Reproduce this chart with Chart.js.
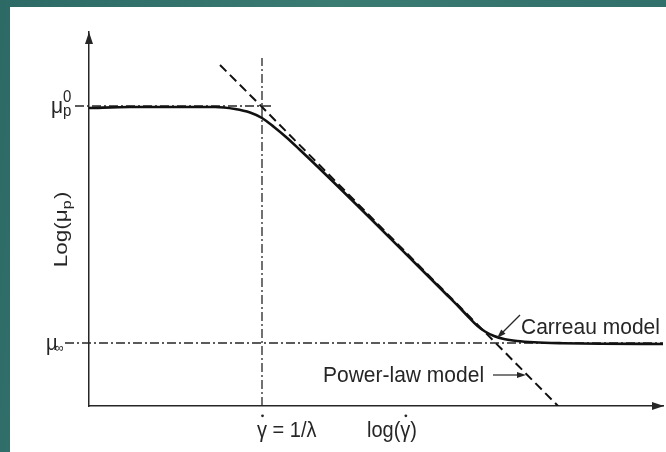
<!DOCTYPE html>
<html>
<head>
<meta charset="utf-8">
<script src="https://cdn.jsdelivr.net/npm/chart.js@4.4.0/dist/chart.umd.min.js"></script>
<style>
    body {
        margin: 0;
        width: 666px;
        height: 452px;
        overflow: hidden;
        background: linear-gradient(100deg, #2d6a66 0%, #3a7b72 45%, #2f6d69 100%);
    }
    #wrap {
        position: absolute;
        left: 10px;
        top: 7px;
        width: 656px;
        height: 445px;
        background: #fff;
    }
</style>
</head>
<body>
<div id="wrap"><canvas id="viscChart" width="656" height="445"></canvas></div>
<script>
// Carreau model curve (log shear rate vs log viscosity)
const carreauShear = [0.00, 0.41, 0.91, 1.26, 1.46, 1.61, 1.73, 1.85, 1.97, 2.10, 2.31, 2.81, 3.31, 3.56, 3.70, 3.80, 3.88, 3.96, 4.05, 4.15, 4.28, 4.45, 4.74, 5.11, 5.74];
const carreauVisc  = [2.98, 2.99, 2.99, 2.99, 2.97, 2.935, 2.88, 2.79, 2.69, 2.57, 2.37, 1.88, 1.38, 1.13, 0.99, 0.885, 0.805, 0.745, 0.70, 0.67, 0.65, 0.637, 0.628, 0.623, 0.62];

// Power-law asymptote (straight dashed line)
const powerShear = [1.31, 1.73, 4.69];
const powerVisc  = [3.41, 2.99, 0.00];

// reference levels
const muZero = 3.0;
const muInf = 0.63;
const invLambda = 1.73;
const muZeroSpan = [-0.14, 1.84];
const muInfSpan = [-0.24, 5.74];
const lambdaSpan = [0, 3.48];

// axis ranges
const xMax = 5.74;
const yMax = 3.74;

const ink = '#262626';
const fontFamily = "'Liberation Sans', Arial, sans-serif";
const dashDot = [9, 3, 2, 3];

const toPoints = (xs, ys) => xs.map((x, i) => ({ x: x, y: ys[i] }));

const arrowHead = (ctx, x1, y1, x2, y2, len, half) => {
    const a = Math.atan2(y2 - y1, x2 - x1);
    ctx.beginPath();
    ctx.moveTo(x2, y2);
    ctx.lineTo(x2 - len * Math.cos(a) + half * Math.sin(a), y2 - len * Math.sin(a) - half * Math.cos(a));
    ctx.lineTo(x2 - len * Math.cos(a) - half * Math.sin(a), y2 - len * Math.sin(a) + half * Math.cos(a));
    ctx.closePath();
    ctx.fill();
};

// text drawn slightly taller than the font, like the scanned figure
const text = (ctx, str, x, y, size, sy = 1.08) => {
    ctx.save();
    ctx.translate(x, y);
    ctx.scale(1, sy);
    ctx.font = size + 'px ' + fontFamily;
    ctx.fillText(str, 0, 0);
    const w = ctx.measureText(str).width;
    ctx.restore();
    return w;
};

// gamma with a dot over it
const gammaDot = (ctx, x, y, size) => {
    const w = text(ctx, 'γ', x, y, size);
    ctx.beginPath();
    ctx.arc(x + w / 2 + 0.5, y - size * 1.06, 1.4, 0, Math.PI * 2);
    ctx.fill();
    return w;
};

const labelsPlugin = {
    id: 'labels',
    afterDraw(chart) {
        const ctx = chart.ctx;
        const ca = chart.chartArea;
        const xs = chart.scales.x;
        const ys = chart.scales.y;
        ctx.save();
        ctx.fillStyle = ink;
        ctx.strokeStyle = ink;
        ctx.textBaseline = 'alphabetic';
        ctx.textAlign = 'left';

        // axis arrows
        arrowHead(ctx, ca.left, ca.bottom, ca.left, ca.top, 12, 4);
        arrowHead(ctx, ca.left, ca.bottom, ca.right + 1, ca.bottom, 12, 4);

        // mu_p^0 tick label
        const y0 = ys.getPixelForValue(muZero);
        text(ctx, 'μ', 41, y0 + 7, 21);
        text(ctx, '0', 53, y0 - 4, 15);
        text(ctx, 'p', 53, y0 + 10, 15);

        // mu_inf tick label
        const yi = ys.getPixelForValue(muInf);
        text(ctx, 'μ', 36, yi + 7, 20);
        text(ctx, '∞', 45, yi + 9, 12);

        // y axis title Log(mu_p)
        ctx.save();
        ctx.translate(57, (ca.top + ca.bottom) / 2 + 11);
        ctx.rotate(-Math.PI / 2);
        ctx.scale(1.25, 1);
        ctx.font = '18px ' + fontFamily;
        const wa = ctx.measureText('Log(μ').width;
        ctx.font = '13px ' + fontFamily;
        const wp = ctx.measureText('p').width;
        ctx.font = '18px ' + fontFamily;
        const wb = ctx.measureText(')').width;
        let tx = -(wa + wp + wb) / 2;
        text(ctx, 'Log(μ', tx, 0, 18, 1);
        text(ctx, 'p', tx + wa, 4, 13, 1);
        text(ctx, ')', tx + wa + wp + 1, 0, 18, 1);
        ctx.restore();

        // x labels
        const xl = xs.getPixelForValue(invLambda);
        let cx = xl - 5;
        cx += gammaDot(ctx, cx, ca.bottom + 31, 20);
        text(ctx, ' = 1/λ', cx, ca.bottom + 31, 20);

        cx = ca.left + 278;
        cx += text(ctx, 'log(', cx, ca.bottom + 31, 20);
        cx += gammaDot(ctx, cx, ca.bottom + 31, 20);
        text(ctx, ')', cx, ca.bottom + 31, 20);

        // Carreau model label with arrow
        text(ctx, 'Carreau model', ca.left + 432, ca.bottom - 72, 21);
        ctx.lineWidth = 1.2;
        ctx.beginPath();
        ctx.moveTo(ca.left + 431, ca.bottom - 91);
        ctx.lineTo(ca.left + 412, ca.bottom - 72);
        ctx.stroke();
        arrowHead(ctx, ca.left + 431, ca.bottom - 91, ca.left + 408, ca.bottom - 68, 9, 3);

        // Power-law model label with arrow
        text(ctx, 'Power-law model', ca.left + 234, ca.bottom - 24, 21);
        ctx.beginPath();
        ctx.moveTo(ca.left + 404, ca.bottom - 31);
        ctx.lineTo(ca.left + 430, ca.bottom - 31);
        ctx.stroke();
        arrowHead(ctx, ca.left + 404, ca.bottom - 31, ca.left + 437, ca.bottom - 31, 9, 3);

        ctx.restore();
    }
};

const refLine = (points) => ({
    data: points,
    borderColor: ink,
    borderWidth: 1.3,
    borderDash: dashDot,
    pointRadius: 0,
    fill: false,
    clip: false,
});

const ctx = document.getElementById('viscChart').getContext('2d');
const viscChart = new Chart(ctx, {
    type: 'line',
    data: {
        datasets: [
            {
                label: 'Carreau model',
                data: toPoints(carreauShear, carreauVisc),
                borderColor: '#111',
                borderWidth: 2.6,
                pointRadius: 0,
                cubicInterpolationMode: 'monotone',
                fill: false,
            },
            {
                label: 'Power-law model',
                data: toPoints(powerShear, powerVisc),
                borderColor: '#111',
                borderWidth: 2,
                borderDash: [9, 5],
                pointRadius: 0,
                fill: false,
            },
            refLine(muZeroSpan.map(x => ({ x: x, y: muZero }))),
            refLine(muInfSpan.map(x => ({ x: x, y: muInf }))),
            refLine(lambdaSpan.map(y => ({ x: invLambda, y: y }))),
        ],
    },
    options: {
        responsive: false,
        animation: false,
        events: [],
        layout: {
            padding: { left: 79, top: 25, right: 3, bottom: 46 },
        },
        plugins: {
            legend: { display: false },
            tooltip: { enabled: false },
        },
        scales: {
            x: {
                type: 'linear',
                min: 0,
                max: xMax,
                ticks: { display: false },
                grid: { display: false, drawTicks: false },
                border: { display: true, color: ink, width: 1.5 },
            },
            y: {
                type: 'linear',
                min: 0,
                max: yMax,
                ticks: { display: false },
                grid: { display: false, drawTicks: false },
                border: { display: true, color: ink, width: 1.5 },
            },
        },
    },
    plugins: [labelsPlugin],
});
</script>
</body>
</html>
